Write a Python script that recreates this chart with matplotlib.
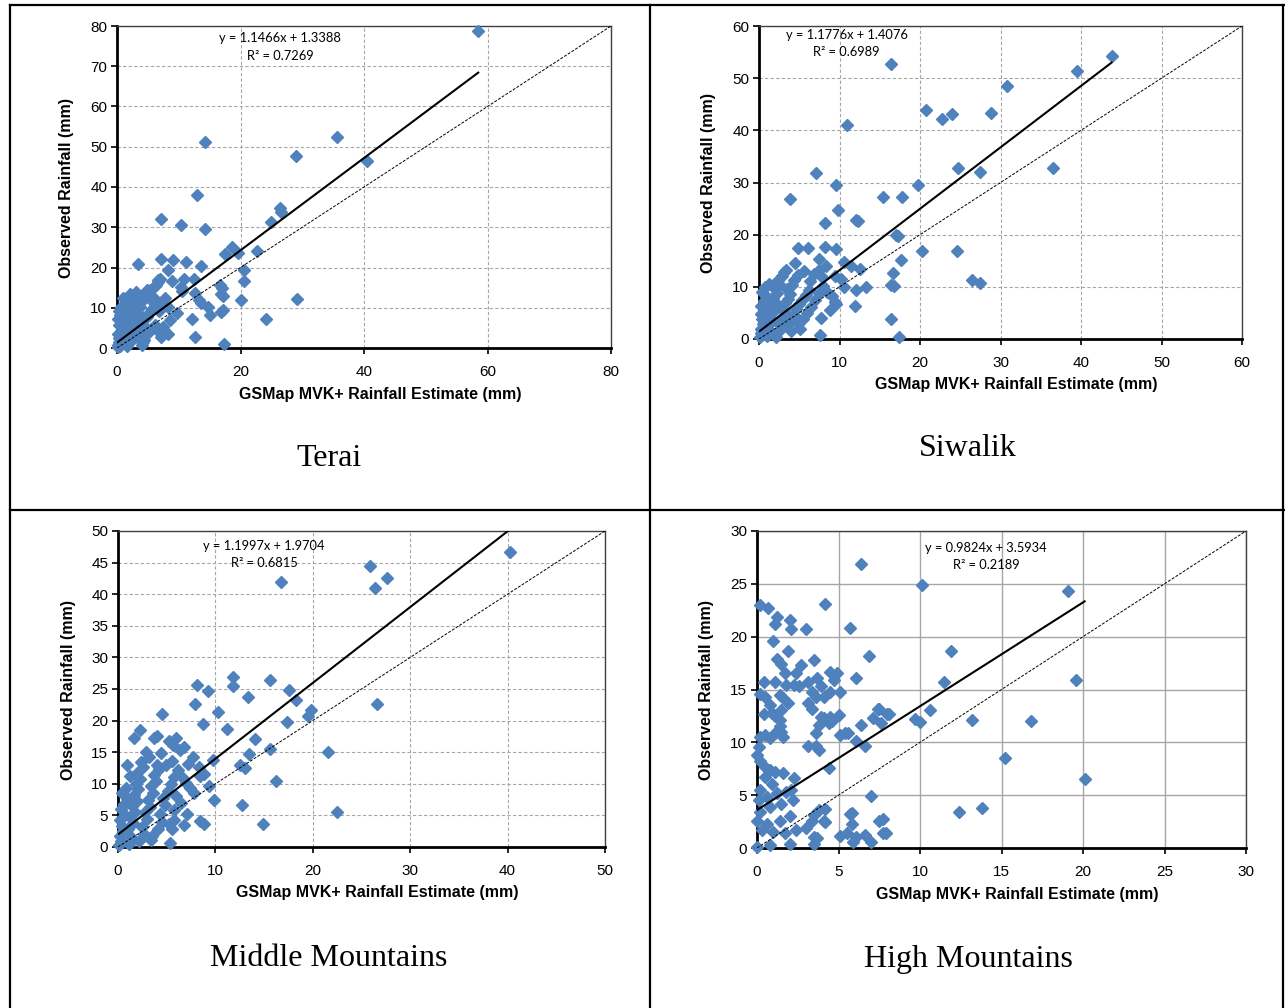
import numpy as np
import matplotlib
matplotlib.use("Agg")
import matplotlib.pyplot as plt
from matplotlib.lines import Line2D

# ---------------- data ----------------
terai_x = [58.5, 35.6, 14.3, 29.0, 40.5, 13.0, 7.1, 10.4, 14.3, 26.4, 26.6, 24.9, 18.7, 19.6, 22.6, 17.5,
           3.35, 7.1, 9.1, 11.1, 13.6, 8.3, 20.5, 20.6, 8.9, 10.9, 12.4, 6.7, 6.2, 5.3, 10.3, 10.6, 12.6,
           13.2, 13.6, 16.7, 16.9, 20.0, 29.1, 24.1, 17.1, 16.9, 14.8, 15.1, 12.1, 12.6, 17.4, 9.7, 8.6,
           7.5, 8.3, 7.2, 4.0, 4.3, 3.9, 17.0, 17.2,
           0.1, 0.2, 0.3, 0.5, 0.4, 0.2, 0.6, 0.3, 0.8, 0.1, 0.5, 1.0, 1.2, 1.5, 1.1, 1.4, 1.8, 1.3, 1.9,
           2.2, 2.5, 2.1, 2.8, 3.1, 3.4, 2.4, 2.7, 2.9, 2.3, 3.2, 3.5, 3.0, 3.8, 4.1, 4.5, 4.9, 5.2, 5.6,
           6.0, 6.3, 6.6, 7.0, 4.0, 4.4, 4.8, 5.3, 5.7, 6.1, 6.8, 7.3, 7.8, 8.2, 5.0, 5.5, 6.2, 6.7, 3.6,
           4.2, 0.7, 1.6, 0.9, 0.4, 1.7, 2.0, 3.3, 2.6]
terai_y = [78.8, 52.4, 51.2, 47.7, 46.5, 38.0, 32.0, 30.6, 29.5, 34.8, 33.8, 31.4, 25.2, 23.7, 24.2, 23.3,
           20.9, 22.1, 21.9, 21.4, 20.4, 19.5, 19.5, 16.6, 16.7, 17.2, 17.2, 16.9, 15.4, 14.4, 15.1, 14.2,
           13.7, 11.9, 11.3, 15.7, 13.4, 11.9, 12.2, 7.2, 9.4, 9.0, 10.3, 8.2, 7.2, 2.7, 1.0, 8.6, 7.0,
           5.3, 3.6, 2.8, 0.7, 2.0, 3.2, 14.9, 12.9,
           0.2, 0.8, 1.5, 0.4, 2.5, 3.4, 4.2, 5.6, 6.3, 7.1, 8.2, 1.2, 2.8, 3.9, 5.1, 6.7, 7.5, 8.9, 9.8,
           10.7, 12.1, 13.4, 11.3, 13.9, 12.6, 1.9, 3.3, 4.8, 6.0, 7.2, 8.5, 9.4, 10.1, 11.6, 12.9, 14.3,
           13.1, 11.8, 12.5, 15.6, 16.3, 17.2, 6.5, 5.4, 7.8, 8.9, 9.7, 10.5, 9.1, 11.2, 12.4, 10.3, 3.8,
           4.6, 5.7, 4.3, 2.2, 1.4, 10.3, 11.2, 12.4, 9.3, 0.6, 2.3, 5.8, 8.0]

siwalik_x = [43.8, 39.5, 30.8, 16.4, 28.8, 10.9, 20.8, 22.7, 24.0, 36.5, 27.5, 24.7, 7.1, 9.6, 3.8, 15.4,
             17.8, 19.7, 9.8, 12.1, 12.3, 8.2, 17.0, 17.3, 20.2, 24.6, 4.8, 6.1, 8.2, 9.6, 4.5, 7.4, 8.3,
             10.5, 11.4, 12.6, 16.6, 17.7, 26.4, 27.5, 16.4, 16.8, 10.6, 12.0, 13.3, 11.9, 16.4, 17.4, 7.6,
             5.1, 7.7, 9.6,
             0.1, 0.3, 0.2, 0.5, 0.4, 0.2, 0.7, 0.3, 0.6, 0.9, 0.4, 0.8, 1.2, 1.0, 1.4, 1.1, 1.6, 1.3, 1.8,
             1.5, 2.0, 1.7, 2.2, 1.9, 2.5, 2.3, 2.8, 3.1, 3.4, 2.1, 2.6, 2.4, 2.9, 3.3, 2.7, 3.2, 3.6, 3.9,
             3.5, 4.1, 4.4, 4.8, 3.0, 3.8, 4.3, 4.6, 5.0, 5.4, 5.8, 6.2, 4.0, 4.9, 5.5, 6.0, 6.5, 7.0, 7.4,
             8.0, 8.5, 9.1, 9.5, 8.8, 6.8, 7.5, 5.6, 6.3, 7.8, 9.4, 10.2]
siwalik_y = [54.2, 51.4, 48.5, 52.8, 43.3, 41.0, 43.9, 42.2, 43.2, 32.8, 32.1, 32.7, 31.9, 29.6, 26.8, 27.3,
             27.3, 29.5, 24.7, 22.8, 22.6, 22.2, 19.9, 19.8, 16.9, 16.9, 17.5, 17.5, 17.6, 17.3, 14.6, 15.3,
             14.0, 14.8, 13.9, 13.5, 12.7, 15.1, 11.3, 10.7, 10.4, 10.2, 10.0, 9.4, 10.0, 6.3, 3.8, 0.3, 0.8,
             2.0, 4.1, 6.8,
             0.3, 1.1, 2.0, 2.9, 3.8, 4.7, 5.5, 6.4, 7.3, 8.2, 9.1, 10.0, 10.6, 0.6, 1.5, 2.6, 3.5, 4.4, 5.2,
             6.1, 7.0, 7.9, 8.8, 9.7, 10.5, 11.3, 12.0, 12.8, 13.2, 0.4, 1.8, 3.0, 4.1, 5.0, 6.0, 6.9, 7.7,
             8.6, 9.5, 10.3, 11.4, 12.2, 2.4, 3.3, 4.6, 5.8, 6.7, 7.5, 8.4, 9.3, 1.5, 2.8, 3.9, 5.0, 6.2, 7.4,
             8.9, 10.1, 9.0, 8.3, 7.0, 5.6, 12.4, 13.3, 13.0, 11.1, 11.8, 12.0, 11.5]

middle_x = [40.2, 25.9, 27.6, 26.4, 16.7, 26.6, 15.6, 11.8, 11.8, 8.1, 9.2, 13.3, 17.6, 18.3, 19.8, 19.5,
            17.4, 14.1, 13.5, 15.6, 21.6, 13.0, 12.5, 16.2, 12.7, 14.9, 22.5, 7.9, 10.3, 4.5, 8.7, 11.2,
            9.9, 9.8, 8.4, 9.3, 8.4, 8.8, 6.8, 7.1, 5.5, 5.7, 5.3, 3.4, 6.8, 7.7, 7.2, 3.7, 4.0, 2.3, 1.6,
            5.2, 6.0, 6.4, 5.6,
            0.1, 0.3, 0.2, 0.5, 0.4, 0.2, 0.7, 0.3, 0.6, 0.9, 0.4, 0.8, 1.1, 1.3, 1.0, 1.5, 1.2, 1.7, 1.4,
            1.9, 1.6, 2.1, 1.8, 2.3, 2.0, 2.6, 2.4, 1.2, 0.9, 2.2, 2.7, 2.5, 3.0, 2.8, 3.3, 3.1, 3.6, 3.4,
            3.9, 3.7, 4.2, 4.0, 3.5, 4.1, 4.5, 4.3, 4.8, 4.6, 5.1, 5.4, 5.8, 6.2, 6.6, 7.0, 7.4, 6.0, 6.5,
            5.7, 5.2, 7.8, 8.3, 8.8, 4.9, 5.5, 3.2, 2.9, 4.4]
middle_y = [46.7, 44.5, 42.6, 41.0, 42.0, 22.6, 26.5, 26.9, 25.5, 25.7, 24.7, 23.8, 24.8, 23.3, 21.6, 20.7,
            19.7, 17.1, 14.7, 15.5, 15.0, 12.5, 13.0, 10.5, 6.6, 3.7, 5.5, 22.6, 21.4, 21.0, 19.4, 18.7,
            7.5, 13.8, 11.2, 9.7, 4.1, 3.6, 3.5, 5.2, 2.8, 4.2, 0.7, 1.1, 15.9, 14.3, 13.1, 17.2, 17.6, 18.5,
            17.2, 16.8, 17.2, 15.3, 16.2,
            0.3, 1.0, 1.8, 2.6, 3.4, 4.3, 5.1, 6.0, 6.8, 7.7, 8.5, 9.4, 0.5, 1.6, 2.9, 3.8, 4.7, 5.6, 6.5,
            7.3, 8.2, 9.1, 10.0, 10.8, 11.7, 12.6, 13.4, 11.2, 12.9, 0.9, 2.1, 3.2, 4.4, 5.5, 6.3, 7.4, 8.6,
            9.6, 10.5, 11.4, 12.3, 13.0, 1.7, 2.9, 4.0, 5.3, 6.6, 7.8, 8.9, 10.0, 11.1, 12.2, 11.0, 10.1,
            9.3, 8.0, 6.9, 5.9, 3.7, 8.5, 12.6, 11.5, 12.9, 13.6, 14.2, 15.1, 14.8]

high_x = [6.4, 10.1, 19.1, 19.6, 20.1, 16.8, 13.2, 15.2, 12.4, 13.8, 11.9, 11.5, 10.6, 9.7, 10.0, 7.5, 8.1,
          7.6, 7.7, 7.7,
          0.2, 0.7, 1.2, 1.1, 2.0, 2.1, 3.0, 4.2, 5.7, 1.0, 1.9, 6.9, 1.2, 1.5, 3.5, 2.7, 2.4, 1.7, 4.5,
          4.7, 4.9, 6.1, 0.4, 1.1, 1.8, 2.3, 2.6, 3.1, 3.7, 3.9, 5.1, 4.5, 4.1, 3.6, 3.4, 0.2, 0.5, 1.4,
          1.6, 1.9, 1.5, 3.1, 3.4, 0.8, 0.9, 1.1, 1.4, 0.4, 3.9, 4.1, 4.5, 4.6, 5.0, 4.4, 3.6, 3.8, 5.1,
          5.4, 5.6, 6.1, 6.6, 7.4, 7.1, 8.0, 6.4, 0.2, 0.5, 0.8, 1.1, 1.5, 1.4, 1.6, 3.1, 3.8, 0.1, 0.0,
          0.2, 0.5, 4.4, 0.8, 1.1, 1.6, 0.9, 0.5, 2.3, 0.2, 0.1, 0.6, 1.2, 1.8, 2.1, 2.2, 1.5, 0.8, 0.2,
          0.0, 0.6, 1.4, 2.0, 0.3, 1.0, 1.7, 2.4, 3.0, 3.4, 3.8, 4.1, 4.2, 5.7, 5.8, 7.5, 5.1, 5.5, 5.9,
          7.0, 7.9, 3.7, 2.0, 0.8, 0.0, 7.0, 5.8, 4.2, 3.5, 3.5, 3.5, 6.1, 6.6, 3.6]
high_y = [26.9, 24.9, 24.3, 15.9, 6.5, 12.0, 12.1, 8.5, 3.4, 3.8, 18.6, 15.7, 13.1, 12.2, 11.9, 13.2, 12.7,
          11.8, 2.7, 1.4,
          23.0, 22.7, 21.9, 21.2, 21.6, 20.7, 20.7, 23.1, 20.8, 19.6, 18.6, 18.2, 17.9, 17.4, 17.8, 17.3,
          16.6, 16.6, 16.7, 15.9, 16.6, 16.1, 15.7, 15.7, 15.4, 15.4, 15.3, 15.7, 16.1, 15.3, 14.8, 14.8,
          14.3, 14.3, 14.8, 14.6, 14.3, 14.5, 14.2, 13.7, 13.1, 13.7, 13.2, 13.5, 12.8, 12.5, 12.1, 12.7,
          12.4, 12.3, 12.4, 12.0, 12.6, 11.8, 10.9, 11.6, 10.7, 10.9, 10.9, 10.1, 9.7, 13.2, 12.3, 12.7,
          11.6, 10.5, 10.7, 10.4, 10.9, 11.0, 11.5, 10.5, 9.7, 9.3, 9.6, 8.8, 8.2, 7.7, 7.6, 7.4, 7.2,
          7.1, 6.1, 6.7, 6.6, 5.5, 4.5, 4.8, 5.2, 5.3, 5.5, 4.5, 4.2, 3.9, 3.4, 2.6, 2.3, 2.6, 3.0, 1.7,
          1.5, 1.4, 1.7, 1.9, 2.6, 3.6, 2.6, 2.5, 3.2, 2.3, 2.6, 1.1, 1.4, 0.6, 0.6, 1.4, 0.9, 0.4, 0.3,
          0.1, 4.9, 3.3, 3.7, 3.1, 1.0, 0.4, 1.0, 1.2, 9.7]

panel_titles = ["Terai", "Siwalik", "Middle Mountains", "High Mountains"]
slopes = [1.1466, 1.1776, 1.1997, 0.9824]
intercepts = [1.3388, 1.4076, 1.9704, 3.5934]
r2_values = [0.7269, 0.6989, 0.6815, 0.2189]
axis_max = [80, 60, 50, 30]
tick_steps = [20, 10, 10, 5]
ytick_steps = [10, 10, 5, 5]
xlabel = "GSMap MVK+ Rainfall Estimate (mm)"
ylabel = "Observed Rainfall (mm)"

xs = [terai_x, siwalik_x, middle_x, high_x]
ys = [terai_y, siwalik_y, middle_y, high_y]

# ---------------- layout ----------------
W, H = 1285, 1008
fig = plt.figure(figsize=(W / 100, H / 100), dpi=100)

def frac(l, t, r, b):
    return [l / W, 1 - b / H, (r - l) / W, (b - t) / H]

axes_px = [(117, 26, 611, 348), (759, 26, 1242, 339), (118, 531, 605, 847), (757, 531, 1246, 848)]
eq_pos = [(26.4, 77.0, 72.5), (10.9, 58.3, 55.0), (15.0, 47.6, 45.0), (14.05, 28.4, 26.8)]
title_px = [(329, 459), (968, 448), (329, 959), (968, 960)]
xlabel_px = [(380, 395), (1016, 385), (377, 893), (1017, 895)]
ylabel_px = [(66, 188), (709, 183), (68, 690), (706, 690)]
solid_grid = [False, False, False, True]

blue = "#4F81BD"
for i in range(4):
    l, t, r, b = axes_px[i]
    ax = fig.add_axes(frac(l, t, r, b))
    m = axis_max[i]
    ax.set_xlim(0, m)
    ax.set_ylim(0, m)
    ax.set_xticks(np.arange(0, m + 0.1, tick_steps[i]))
    ax.set_yticks(np.arange(0, m + 0.1, ytick_steps[i]))
    if solid_grid[i]:
        ax.grid(True, color="#A6A6A6", linewidth=1.0, linestyle="-")
    else:
        ax.grid(True, color="#A6A6A6", linewidth=0.8, linestyle=(0, (3, 2)))
    ax.set_axisbelow(True)
    for s in ["left", "bottom"]:
        ax.spines[s].set_linewidth(2.0)
        ax.spines[s].set_color("black")
    for s in ["top", "right"]:
        ax.spines[s].set_linewidth(1.0)
        ax.spines[s].set_color("#404040")
    ax.tick_params(axis="both", direction="out", length=4, width=1.2, labelsize=11, pad=3)
    for lab in ax.get_xticklabels() + ax.get_yticklabels():
        lab.set_fontfamily("Liberation Sans")
    ax.tick_params(axis="x", pad=8)

    x = np.array(xs[i])
    y = np.array(ys[i])
    ax.plot(x, y, linestyle="none", marker="D", markersize=6.5, color=blue,
            markeredgecolor=blue, zorder=3, clip_on=False)
    # 1:1 line
    ax.plot([0, m], [0, m], color="black", linewidth=0.7, linestyle=(0, (3, 1.5)), zorder=4)
    # trend line
    xx = np.array([x.min(), x.max()])
    ax.plot(xx, slopes[i] * xx + intercepts[i], color="black", linewidth=1.5, zorder=5)

    ex, ey1, ey2 = eq_pos[i]
    ax.text(ex, ey1, "y = %.4fx + %.4f" % (slopes[i], intercepts[i]), ha="center", va="center",
            fontsize=9.3, family="Lato", zorder=6)
    ax.text(ex, ey2, "R² = %.4f" % r2_values[i], ha="center", va="center",
            fontsize=9.3, family="Lato", zorder=6)

    # axis labels (figure coords)
    lx, ly = xlabel_px[i]
    fig.text(lx / W, 1 - ly / H, xlabel, ha="center", va="center",
             fontsize=11.5, fontweight="bold", family="Liberation Sans")
    vx, vy = ylabel_px[i]
    fig.text(vx / W, 1 - vy / H, ylabel, ha="center", va="center",
             rotation=90, fontsize=11.5, fontweight="bold", family="Liberation Sans")
    tx, ty = title_px[i]
    fig.text(tx / W, 1 - ty / H, panel_titles[i], ha="center", va="center",
             fontsize=23, family="Liberation Serif")

# table borders
def hline(yp, x0, x1):
    fig.add_artist(Line2D([x0 / W, x1 / W], [1 - yp / H, 1 - yp / H], color="black", linewidth=1.6))

def vline(xp, y0, y1):
    fig.add_artist(Line2D([xp / W, xp / W], [1 - y0 / H, 1 - y1 / H], color="black", linewidth=1.6))

hline(5, 10, 1284)
hline(510, 10, 1284)
vline(10, 5, 1008)
vline(650, 5, 1008)
vline(1283, 5, 1008)

fig.savefig("out.png", dpi=100)
